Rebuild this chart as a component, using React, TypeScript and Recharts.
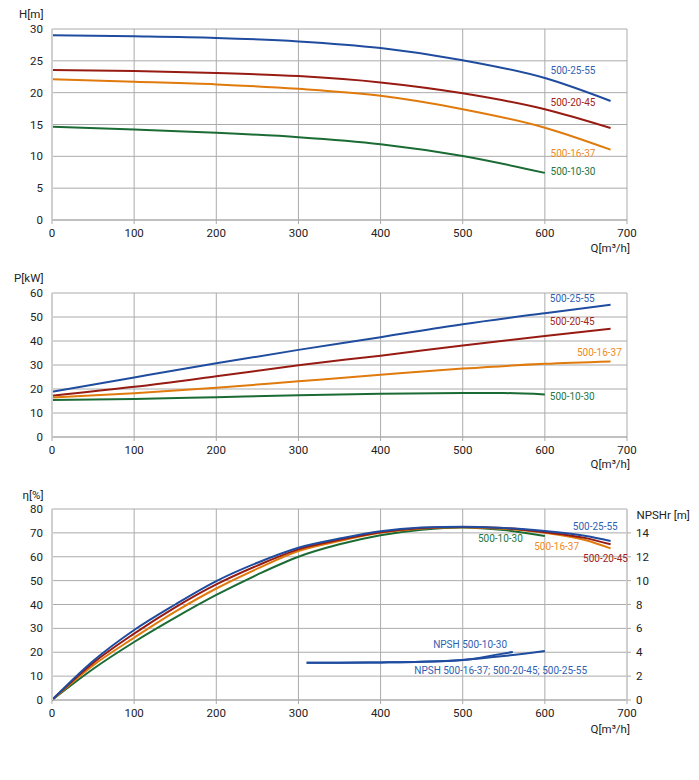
import React from 'react';
import { LineChart, Line, XAxis, YAxis, CartesianGrid, ReferenceDot } from 'recharts';

// ---- series names & colours ----
const SERIES = ['500-25-55', '500-20-45', '500-16-37', '500-10-30'];
const COLORS = ['#1f4c9f', '#971b12', '#e07a0c', '#1b6b35'];
const LABEL_COLORS = ['#2f5fb3', '#a3241a', '#ef8a1c', '#23763f'];

// ---- axes ----
const qTicks = [0, 100, 200, 300, 400, 500, 600, 700];
const hTicks = [0, 5, 10, 15, 20, 25, 30];
const pTicks = [0, 10, 20, 30, 40, 50, 60];
const etaTicks = [0, 10, 20, 30, 40, 50, 60, 70, 80];
const npshTicks = [0, 2, 4, 6, 8, 10, 12, 14];

// ---- head H[m] ----
const qLong = [0, 100, 200, 300, 400, 500, 600, 680];
const qShort = [0, 100, 200, 300, 400, 500, 600];
const head2555 = [29.0, 28.85, 28.6, 28.05, 27.0, 25.1, 22.3, 18.7];
const head2045 = [23.55, 23.4, 23.1, 22.6, 21.6, 19.9, 17.4, 14.45];
const head1637 = [22.1, 21.7, 21.3, 20.6, 19.5, 17.4, 14.5, 11.05];
const head1030 = [14.65, 14.2, 13.7, 13.0, 11.9, 10.05, 7.4];

// ---- power P[kW] ----
const power2555 = [18.8, 24.8, 30.7, 36.3, 41.6, 47.0, 51.6, 55.1];
const power2045 = [17.2, 20.9, 25.3, 29.9, 33.9, 38.1, 42.1, 45.1];
const power1637 = [16.5, 18.2, 20.5, 23.2, 25.9, 28.5, 30.5, 31.5];
const qPower1030 = [0, 100, 200, 300, 400, 500, 550, 600];
const power1030 = [15.4, 15.8, 16.6, 17.4, 18.0, 18.3, 18.3, 17.7];

// ---- efficiency eta[%] ----
const qEta = [0, 50, 100, 150, 200, 250, 300, 350, 400, 450, 500, 550, 600, 650, 680];
const qEta1030 = [0, 50, 100, 150, 200, 250, 300, 350, 400, 450, 500, 550, 600];
const eta2555 = [0, 16.3, 29.3, 40.0, 49.8, 57.5, 63.8, 67.6, 70.7, 72.2, 72.6, 72.0, 70.8, 68.7, 66.6];
const eta2045 = [0, 15.5, 27.8, 38.8, 48.4, 56.3, 63.1, 67.1, 70.3, 72.0, 72.5, 72.0, 70.3, 67.8, 65.2];
const eta1637 = [0, 14.5, 26.1, 37.0, 46.7, 55.0, 62.4, 66.6, 70.0, 71.8, 72.4, 71.7, 70.0, 66.9, 63.5];
const eta1030 = [0, 13.0, 24.3, 34.5, 44.0, 52.5, 60.0, 65.2, 69.0, 71.3, 72.3, 71.2, 68.7];

// ---- NPSHr [m] ----
const qNpshMain = [310, 350, 400, 450, 500, 550, 600];
const npshMain = [3.13, 3.13, 3.15, 3.2, 3.35, 3.68, 4.1];
const qNpsh1030 = [310, 350, 400, 450, 500, 520, 540, 561];
const npsh1030 = [3.13, 3.13, 3.15, 3.2, 3.35, 3.52, 3.78, 4.02];

// ---- annotation anchors (data units) ----
const headLabels = [
  { text: SERIES[0], q: 607, v: 23.55, c: 0 },
  { text: SERIES[1], q: 607, v: 18.4, c: 1 },
  { text: SERIES[2], q: 607, v: 10.5, c: 2 },
  { text: SERIES[3], q: 607, v: 7.55, c: 3 },
];
const powerLabels = [
  { text: SERIES[0], q: 606, v: 57.6, c: 0 },
  { text: SERIES[1], q: 606, v: 48.0, c: 1 },
  { text: SERIES[2], q: 639, v: 35.4, c: 2 },
  { text: SERIES[3], q: 606, v: 17.0, c: 3 },
];
const etaLabels = [
  { text: SERIES[0], q: 634, v: 72.8, c: 0 },
  { text: SERIES[3], q: 518.5, v: 67.7, c: 3 },
  { text: SERIES[2], q: 587, v: 64.4, c: 2 },
  { text: SERIES[1], q: 646.5, v: 59.3, c: 1 },
];
const npshLabels = [
  { text: 'NPSH 500-10-30', q: 464, v: 23.3, c: 0 },
  { text: 'NPSH 500-16-37; 500-20-45; 500-25-55', q: 441, v: 12.4, c: 0 },
];

const mk = (qs: number[], vs: number[]) => qs.map((q, i) => ({ q, v: vs[i] }));

const FONT = 'Roboto, "DejaVu Sans", sans-serif';
const TICK = { fontSize: 11.5, fill: '#222', fontFamily: FONT };
const GRID = '#ababab';
const BORDER = '#cfcfcf';

const W = 683;
const MARGIN_R = 64;

const SeriesLabel = (props: any) => {
  const vb = props.viewBox || {};
  const x = (vb.x || 0) + (vb.width || 0) / 2;
  const y = (vb.y || 0) + (vb.height || 0) / 2;
  return (
    <text x={x} y={y} dominantBaseline="central" textAnchor="start" fontSize={props.size || 10}
      fontFamily={FONT} fill={props.color}>
      {props.text}
    </text>
  );
};

const renderLabels = (labels: any[], yAxisId: string, size = 10) =>
  labels.map((l, i) => (
    <ReferenceDot key={'lab' + i} x={l.q} y={l.v} r={0} yAxisId={yAxisId} fill="none" stroke="none"
      ifOverflow="visible"
      label={<SeriesLabel text={l.text} color={LABEL_COLORS[l.c]} size={size} />} />
  ));

const xAxis = (
  <XAxis dataKey="q" type="number" domain={[0, 700]} ticks={qTicks} interval={0}
    allowDataOverflow tick={TICK} tickSize={4} tickMargin={5} height={30}
    axisLine={{ stroke: GRID }} tickLine={{ stroke: GRID }} />
);

const Title = ({ text, left, top, width, align }: any) => (
  <div style={{
    position: 'absolute', left, top, width, textAlign: align, fontFamily: FONT,
    fontSize: 11.5, lineHeight: '14px', color: '#222', whiteSpace: 'nowrap',
  }}>{text}</div>
);

export default function App() {
  return (
    <div style={{ position: 'relative', width: W, height: 764 }}>
      {/* Head chart */}
      <div style={{ position: 'absolute', left: 0, top: 0 }}>
        <LineChart width={W} height={242} margin={{ top: 21, right: MARGIN_R, bottom: 0, left: 0 }}>
          <CartesianGrid stroke={GRID} yAxisId="l" />
          <XAxis dataKey="q" type="number" domain={[0, 700]} ticks={qTicks} interval={0}
            allowDataOverflow tick={TICK} tickSize={4} tickMargin={5} height={30}
            axisLine={{ stroke: GRID }} tickLine={{ stroke: GRID }} />
          <YAxis yAxisId="l" type="number" domain={[0, 30]} ticks={hTicks} interval={0} width={44}
            tick={TICK} tickLine={false} tickMargin={3} axisLine={{ stroke: BORDER, strokeWidth: 2 }} />
          <Line yAxisId="l" data={mk(qLong, head2555)} dataKey="v" type="monotone" stroke={COLORS[0]} strokeWidth={2} dot={false} isAnimationActive={false} />
          <Line yAxisId="l" data={mk(qLong, head2045)} dataKey="v" type="monotone" stroke={COLORS[1]} strokeWidth={2} dot={false} isAnimationActive={false} />
          <Line yAxisId="l" data={mk(qLong, head1637)} dataKey="v" type="monotone" stroke={COLORS[2]} strokeWidth={2} dot={false} isAnimationActive={false} />
          <Line yAxisId="l" data={mk(qShort, head1030)} dataKey="v" type="monotone" stroke={COLORS[3]} strokeWidth={2} dot={false} isAnimationActive={false} />
          {renderLabels(headLabels, 'l')}
        </LineChart>
      </div>
      <Title text="H[m]" left={0} top={-1} width={35.5} align="right" />
      <Title text="Q[m³/h]" left={520} top={233} width={102} align="right" />

      {/* Power chart */}
      <div style={{ position: 'absolute', left: 0, top: 262 }}>
        <LineChart width={W} height={197} margin={{ top: 23, right: MARGIN_R, bottom: 0, left: 0 }}>
          <CartesianGrid stroke={GRID} yAxisId="l" />
          <XAxis dataKey="q" type="number" domain={[0, 700]} ticks={qTicks} interval={0}
            allowDataOverflow tick={TICK} tickSize={4} tickMargin={5} height={30}
            axisLine={{ stroke: GRID }} tickLine={{ stroke: GRID }} />
          <YAxis yAxisId="l" type="number" domain={[0, 60]} ticks={pTicks} interval={0} width={44}
            tick={TICK} tickLine={false} tickMargin={3} axisLine={{ stroke: BORDER, strokeWidth: 2 }} />
          <Line yAxisId="l" data={mk(qLong, power2555)} dataKey="v" type="monotone" stroke={COLORS[0]} strokeWidth={2} dot={false} isAnimationActive={false} />
          <Line yAxisId="l" data={mk(qLong, power2045)} dataKey="v" type="monotone" stroke={COLORS[1]} strokeWidth={2} dot={false} isAnimationActive={false} />
          <Line yAxisId="l" data={mk(qLong, power1637)} dataKey="v" type="monotone" stroke={COLORS[2]} strokeWidth={2} dot={false} isAnimationActive={false} />
          <Line yAxisId="l" data={mk(qPower1030, power1030)} dataKey="v" type="monotone" stroke={COLORS[3]} strokeWidth={2} dot={false} isAnimationActive={false} />
          {renderLabels(powerLabels, 'l')}
        </LineChart>
      </div>
      <Title text="P[kW]" left={0} top={263} width={35.5} align="right" />
      <Title text="Q[m³/h]" left={520} top={449} width={102} align="right" />

      {/* Efficiency / NPSH chart */}
      <div style={{ position: 'absolute', left: 0, top: 480 }}>
        <LineChart width={W} height={242} margin={{ top: 21, right: 24, bottom: 0, left: 0 }}>
          <CartesianGrid stroke={GRID} yAxisId="l" />
          <XAxis dataKey="q" type="number" domain={[0, 700]} ticks={qTicks} interval={0}
            allowDataOverflow tick={TICK} tickSize={4} tickMargin={5} height={30}
            axisLine={{ stroke: GRID }} tickLine={{ stroke: GRID }} />
          <YAxis yAxisId="l" type="number" domain={[0, 80]} ticks={etaTicks} interval={0} width={44}
            tick={TICK} tickLine={false} tickMargin={3} axisLine={{ stroke: BORDER, strokeWidth: 2 }} />
          <YAxis yAxisId="r" orientation="right" type="number" domain={[0, 16]} ticks={npshTicks} interval={0} width={40}
            tick={TICK} tickSize={4} tickMargin={5} tickLine={{ stroke: GRID }} axisLine={{ stroke: BORDER, strokeWidth: 2 }} />
          <Line yAxisId="l" data={mk(qEta1030, eta1030)} dataKey="v" type="monotone" stroke={COLORS[3]} strokeWidth={2} dot={false} isAnimationActive={false} />
          <Line yAxisId="l" data={mk(qEta, eta1637)} dataKey="v" type="monotone" stroke={COLORS[2]} strokeWidth={2} dot={false} isAnimationActive={false} />
          <Line yAxisId="l" data={mk(qEta, eta2045)} dataKey="v" type="monotone" stroke={COLORS[1]} strokeWidth={2} dot={false} isAnimationActive={false} />
          <Line yAxisId="l" data={mk(qEta, eta2555)} dataKey="v" type="monotone" stroke={COLORS[0]} strokeWidth={2} dot={false} isAnimationActive={false} />
          <Line yAxisId="r" data={mk(qNpsh1030, npsh1030)} dataKey="v" type="monotone" stroke={COLORS[0]} strokeWidth={2} dot={false} isAnimationActive={false} />
          <Line yAxisId="r" data={mk(qNpshMain, npshMain)} dataKey="v" type="monotone" stroke={COLORS[0]} strokeWidth={2} dot={false} isAnimationActive={false} />
          {renderLabels(etaLabels, 'l')}
          {renderLabels(npshLabels, 'l')}
        </LineChart>
      </div>
      <Title text="η[%]" left={0} top={480} width={35.5} align="right" />
      <Title text="NPSHr [m]" left={628.5} top={500} width={60} align="left" />
      <Title text="Q[m³/h]" left={520} top={714} width={102} align="right" />
    </div>
  );
}
